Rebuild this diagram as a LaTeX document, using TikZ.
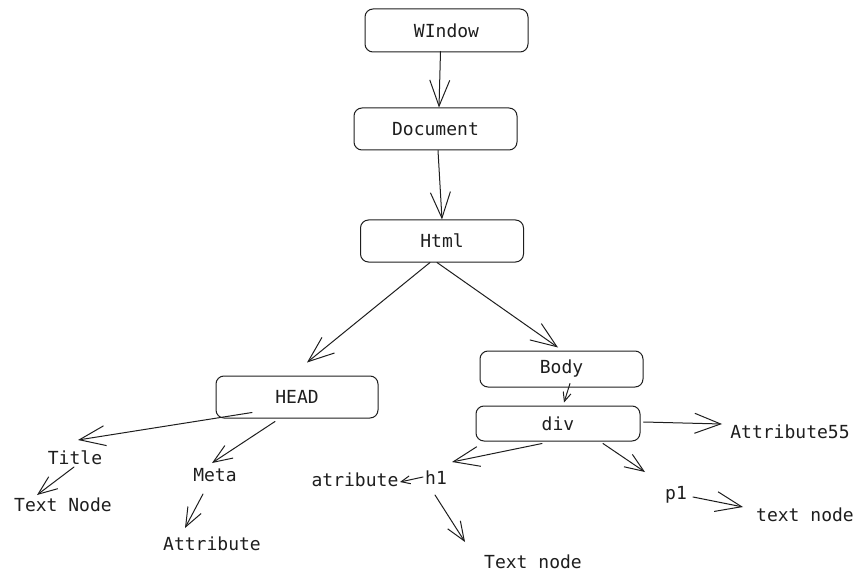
\documentclass[tikz,border=0pt]{standalone}
\usepackage{fontspec}
\setmainfont{DejaVu Sans Mono}
\usetikzlibrary{arrows.meta}
\definecolor{ink}{HTML}{1E1E1E}
\begin{document}
\begin{tikzpicture}[x=1pt,y=-1pt,
  every node/.style={text=ink,font=\fontsize{18}{21}\selectfont},
  box/.style={draw=ink,line width=1pt,rounded corners=8pt,inner sep=0pt},
  lbl/.style={inner sep=0pt},
  conn/.style={draw=ink,line width=1pt,line cap=round},
  bigarr/.style={conn,-{Straight Barb[length=26pt,width=20pt,line width=1pt]}},
  midarr/.style={conn,-{Straight Barb[length=19pt,width=15pt,line width=1pt]}},
  smallarr/.style={conn,-{Straight Barb[length=9pt,width=8pt,line width=1pt]}}]
\useasboundingbox (0,0) rectangle (863,583);
% boxes
\node[box,minimum width=163pt,minimum height=43pt] (win) at (446.5,30.5) {WIndow};
\node[box,minimum width=163pt,minimum height=42pt] (doc) at (435.5,129) {Document};
\node[box,minimum width=163pt,minimum height=42pt] (html) at (442,241) {Html};
\node[box,minimum width=162pt,minimum height=42pt] (head) at (297,397) {HEAD};
\node[box,minimum width=163pt,minimum height=36pt] (body) at (561.5,369) {Body};
\node[box,minimum width=164pt,minimum height=35pt] (div) at (558,423.5) {div};
% labels
\node[lbl] (title) at (75,458) {Title};
\node[lbl] (tnodea) at (63,505) {Text Node};
\node[lbl] (meta) at (215,475) {Meta};
\node[lbl] (attrib) at (212,544) {Attribute};
\node[lbl] (atrib) at (355,480) {atribute};
\node[lbl] (hone) at (436,478) {h1};
\node[lbl] (tnodeb) at (533,562) {Text node};
\node[lbl] (pone) at (676,495) {p1};
\node[lbl] (tnodec) at (805,515) {text node};
\node[lbl] (attrff) at (790,432) {Attribute55};
% connectors
\draw[bigarr] ([shift={(-6,-1)}]win.south) -- ([shift={(3.5,0)}]doc.north);
\draw[bigarr] ([shift={(2.5,0)}]doc.south) -- (html.north);
\draw[bigarr] ([shift={(-12,0)}]html.south) -- ([shift={(10,-13)}]head.north);
\draw[bigarr] ([shift={(-5,0)}]html.south) -- ([shift={(-3.5,-3)}]body.north);
\draw[smallarr] ([shift={(8.5,-4)}]body.south) -- ([shift={(6,-3)}]div.north);
\draw[bigarr] ([shift={(-45,-6)}]head.south) -- ([shift={(3,-18)}]title.center);
\draw[midarr] ([shift={(-22,3)}]head.south) -- ([shift={(-3,-12)}]meta.center);
\draw[midarr] ([shift={(-1,9)}]title.center) -- ([shift={(-26,-10)}]tnodea.center);
\draw[midarr] ([shift={(-12,19)}]meta.center) -- ([shift={(-27,-16)}]attrib.center);
\draw[bigarr] ([shift={(-16,2)}]div.south) -- ([shift={(16,-16)}]hone.center);
\draw[smallarr] ([shift={(-13,-1)}]hone.center) -- ([shift={(45,2)}]atrib.center);
\draw[midarr] ([shift={(-1,17)}]hone.center) -- ([shift={(-68,-20)}]tnodeb.center);
\draw[midarr] ([shift={(45,2)}]div.south) -- ([shift={(-31,-23)}]pone.center);
\draw[bigarr] ([shift={(3,-1.5)}]div.east) -- ([shift={(-68,-8)}]attrff.center);
\draw[bigarr] ([shift={(17,2)}]pone.center) -- ([shift={(-62,-8)}]tnodec.center);
\end{tikzpicture}
\end{document}
